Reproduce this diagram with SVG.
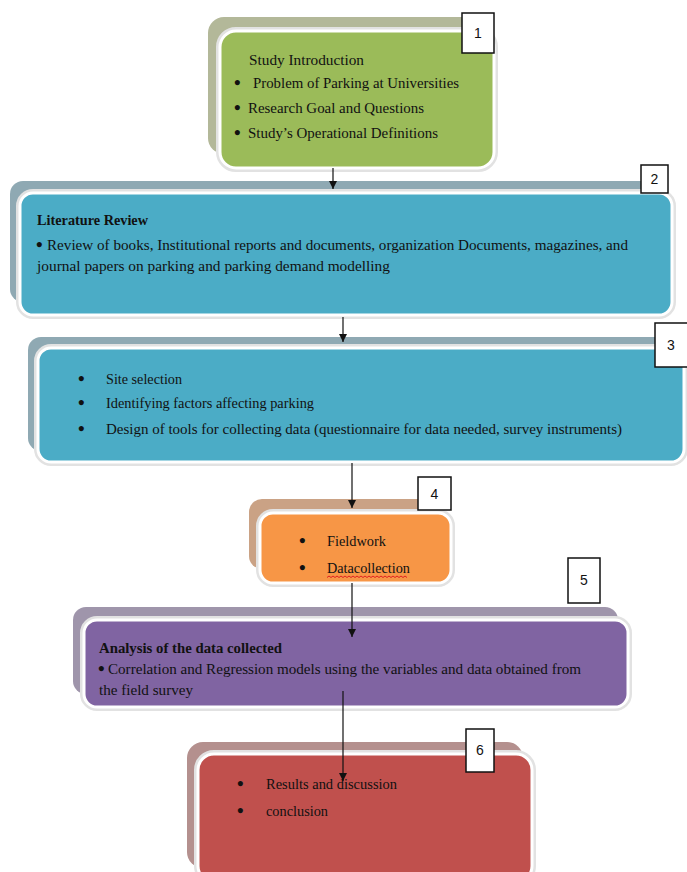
<svg xmlns="http://www.w3.org/2000/svg" width="687" height="872" viewBox="0 0 687 872">
<style>
.halo{fill:none;stroke:#e2e2e2;stroke-width:8}
.front{stroke:#ffffff;stroke-width:3}
.t{font-family:"Liberation Serif","Times New Roman",serif;font-size:15px;fill:#111}
.t1{font-size:15.5px}
.b{font-weight:bold}
.bul{font-family:"Liberation Serif","Times New Roman",serif;font-size:19px;font-weight:bold;fill:#111}
.num{font-family:"Liberation Sans",Arial,sans-serif;font-size:14px;fill:#111;text-anchor:middle}
.nbox{fill:#ffffff;stroke:#111;stroke-width:1.5}
.conn{stroke:#111;stroke-width:1.2;fill:none}
</style>
<defs>
<marker id="ah" viewBox="0 0 10 10" refX="10" refY="5" markerWidth="8" markerHeight="8" markerUnits="userSpaceOnUse" orient="auto">
<path d="M0,0 L10,5 L0,10 z" fill="#111"/>
</marker>
</defs>

<g id="node1">
<rect x="208" y="17" width="274" height="137" rx="16" fill="#b3b899"/>
<rect class="halo" x="220" y="31" width="274" height="137" rx="16"/>
<rect class="front" x="220" y="31" width="274" height="137" rx="16" fill="#9bbb59"/>
<text class="t t1" x="249" y="65" textLength="115" lengthAdjust="spacingAndGlyphs">Study Introduction</text>
<text class="bul" x="234" y="89">•</text>
<text class="t t1" x="253" y="88" textLength="206" lengthAdjust="spacingAndGlyphs">Problem of Parking at Universities</text>
<text class="bul" x="234" y="114">•</text>
<text class="t t1" x="248" y="113" textLength="176" lengthAdjust="spacingAndGlyphs">Research Goal and Questions</text>
<text class="bul" x="234" y="139">•</text>
<text class="t t1" x="248" y="138" textLength="190" lengthAdjust="spacingAndGlyphs">Study’s Operational Definitions</text>
<rect class="nbox" x="462" y="13" width="32" height="40"/>
<text class="num" x="478" y="38">1</text>
</g>

<g id="node2">
<rect x="10" y="181" width="651" height="121" rx="13" fill="#8fa9b3"/>
<rect class="halo" x="20" y="193" width="652" height="122" rx="13"/>
<rect class="front" x="20" y="193" width="652" height="122" rx="13" fill="#4bacc6"/>
<text class="t b" x="37" y="225" textLength="111" lengthAdjust="spacingAndGlyphs">Literature Review</text>
<text class="bul" x="36" y="251">•</text>
<text class="t" x="47" y="250" textLength="581" lengthAdjust="spacingAndGlyphs">Review of books, Institutional reports and documents, organization Documents, magazines, and</text>
<text class="t" x="37" y="271" textLength="353" lengthAdjust="spacingAndGlyphs">journal papers on parking and parking demand modelling</text>
<rect class="nbox" x="641" y="165" width="27" height="28"/>
<text class="num" x="654.5" y="184">2</text>
</g>

<g id="node3">
<rect x="28" y="337" width="646" height="114" rx="13" fill="#8fa9b3"/>
<rect class="halo" x="38" y="348" width="646" height="114" rx="13"/>
<rect class="front" x="38" y="348" width="646" height="114" rx="13" fill="#4bacc6"/>
<text class="bul" x="78" y="385">•</text>
<text class="t" x="106" y="384" textLength="76" lengthAdjust="spacingAndGlyphs">Site selection</text>
<text class="bul" x="78" y="409">•</text>
<text class="t" x="106" y="408" textLength="208" lengthAdjust="spacingAndGlyphs">Identifying factors affecting parking</text>
<text class="bul" x="78" y="435">•</text>
<text class="t" x="106" y="434" textLength="516" lengthAdjust="spacingAndGlyphs">Design of tools for collecting data (questionnaire for data needed, survey instruments)</text>
<rect class="nbox" x="655" y="323" width="34" height="44"/>
<text class="num" x="671" y="350">3</text>
</g>

<g id="node4">
<rect x="249" y="499" width="191" height="70" rx="13" fill="#caa285"/>
<rect class="halo" x="260" y="513" width="191" height="70" rx="13"/>
<rect class="front" x="260" y="513" width="191" height="70" rx="13" fill="#f79646"/>
<text class="bul" x="299" y="547">•</text>
<text class="t" x="327" y="546" textLength="59" lengthAdjust="spacingAndGlyphs">Fieldwork</text>
<text class="bul" x="299" y="574">•</text>
<text class="t" x="327" y="573" textLength="83" lengthAdjust="spacingAndGlyphs">Datacollection</text>
<path d="M327,577.5 l2,-1.5 l2,1.5 l2,-1.5 l2,1.5 l2,-1.5 l2,1.5 l2,-1.5 l2,1.5 l2,-1.5 l2,1.5 l2,-1.5 l2,1.5 l2,-1.5 l2,1.5 l2,-1.5 l2,1.5 l2,-1.5 l2,1.5 l2,-1.5 l2,1.5 l2,-1.5 l2,1.5 l2,-1.5 l2,1.5 l2,-1.5 l2,1.5 l2,-1.5 l2,1.5 l2,-1.5 l2,1.5 l2,-1.5 l2,1.5 l2,-1.5 l2,1.5 l2,-1.5 l2,1.5 l2,-1.5 l2,1.5 l2,-1.5 l2,1.5" fill="none" stroke="#e02020" stroke-width="1"/>
<rect class="nbox" x="418" y="477" width="33" height="33"/>
<text class="num" x="434.5" y="499">4</text>
</g>

<g id="node5">
<rect x="73" y="607" width="545" height="87" rx="13" fill="#9f95ab"/>
<rect class="halo" x="84" y="620" width="544" height="87" rx="13"/>
<rect class="front" x="84" y="620" width="544" height="87" rx="13" fill="#8064a2"/>
<text class="t b" x="99" y="653" textLength="183" lengthAdjust="spacingAndGlyphs">Analysis of the data collected</text>
<text class="bul" x="98" y="675">•</text>
<text class="t" x="108" y="674" textLength="473" lengthAdjust="spacingAndGlyphs">Correlation and Regression models using the variables and data obtained from</text>
<text class="t" x="99" y="695" textLength="94" lengthAdjust="spacingAndGlyphs">the field survey</text>
<rect class="nbox" x="568" y="558" width="32" height="45"/>
<text class="num" x="584" y="585">5</text>
</g>

<g id="node6">
<rect x="187" y="742" width="336" height="126" rx="16" fill="#b4908e"/>
<rect class="halo" x="198" y="754" width="334" height="128" rx="16"/>
<rect class="front" x="198" y="754" width="334" height="128" rx="16" fill="#c0504d"/>
<text class="bul" x="237" y="790">•</text>
<text class="t" x="266" y="789" textLength="131" lengthAdjust="spacingAndGlyphs">Results and discussion</text>
<text class="bul" x="237" y="817">•</text>
<text class="t" x="266" y="816" textLength="62" lengthAdjust="spacingAndGlyphs">conclusion</text>
<rect class="nbox" x="466" y="729" width="28" height="43"/>
<text class="num" x="480" y="755">6</text>
</g>

<g id="connectors">
<line class="conn" x1="333" y1="168" x2="333" y2="189" marker-end="url(#ah)"/>
<line class="conn" x1="343" y1="317" x2="343" y2="342" marker-end="url(#ah)"/>
<line class="conn" x1="352" y1="463" x2="352" y2="508" marker-end="url(#ah)"/>
<line class="conn" x1="352" y1="583" x2="352" y2="637" marker-end="url(#ah)"/>
<line class="conn" x1="343" y1="691" x2="343" y2="781" marker-end="url(#ah)"/>
</g>
</svg>
